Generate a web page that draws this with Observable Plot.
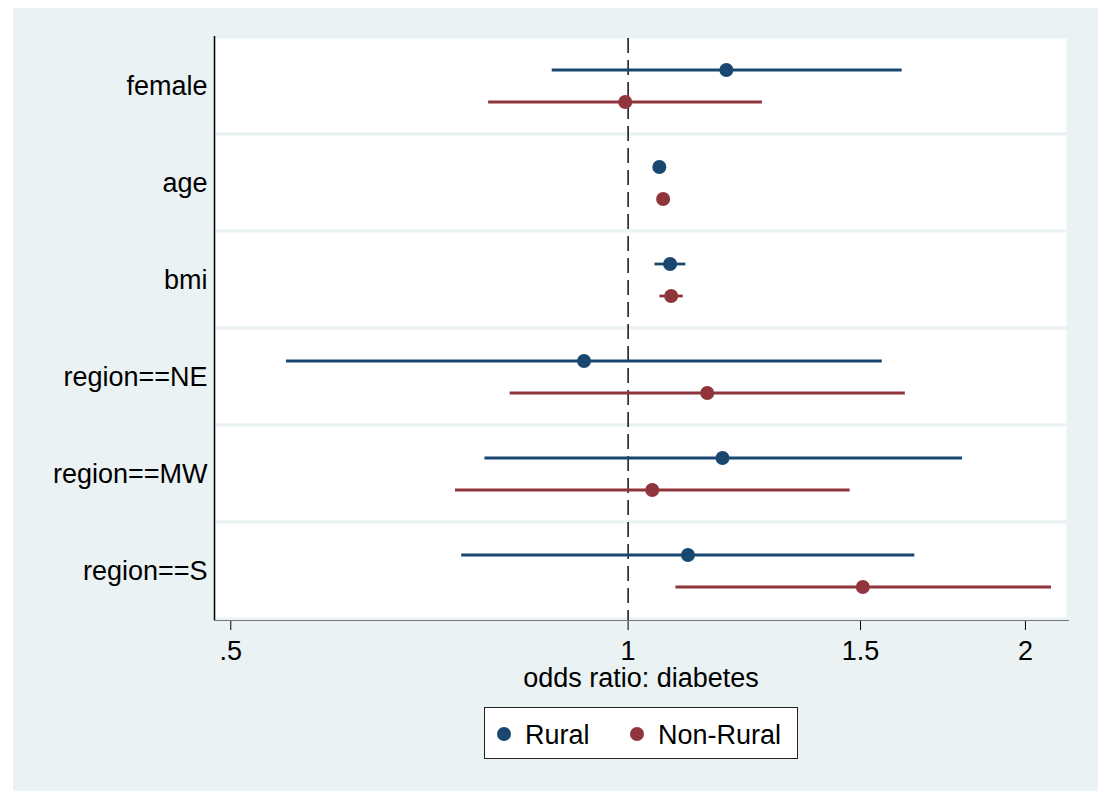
<!DOCTYPE html>
<html>
<head>
<meta charset="utf-8">
<script src="https://cdn.jsdelivr.net/npm/d3@7"></script>
<script src="https://cdn.jsdelivr.net/npm/@observablehq/plot@0.6"></script>
<style>
  html, body { margin: 0; padding: 0; background: white; }
  body { width: 1103px; height: 791px; position: relative; overflow: hidden; font-family: "Liberation Sans", Arial, sans-serif; }
  #panel { position: absolute; left: 13px; top: 8px; width: 1085px; height: 783px; background: #eaf2f3; }
  #chart { position: absolute; left: 0; top: 0; }
  #xtitle { position: absolute; left: 0; width: 1256px; top: 657px; text-align: center; font-size: 27px; line-height: 27px; color: #000; }
  #legend { position: absolute; left: 471px; top: 699px; width: 312px; height: 50px; border: 1px solid #222; background: white; }
  .ldot { position: absolute; width: 14px; height: 14px; border-radius: 50%; top: 19px; }
  .ltxt { position: absolute; font-size: 27px; line-height: 27px; top: 14px; color: #000; white-space: nowrap; }
</style>
</head>
<body>
<div id="panel">
  <div id="chart"></div>
  <div id="xtitle"></div>
  <div id="legend"></div>
</div>
<script>
// ---- data ----
const variables = ["female", "age", "bmi", "region==NE", "region==MW", "region==S"];
const groups = ["Rural", "Non-Rural"];
const groupColors = ["#1a476f", "#90353b"];

const ruralOR = [1.187, 1.056, 1.076, 0.926, 1.179, 1.110];
const ruralLo = [0.876, 1.047, 1.048, 0.551, 0.779, 0.748];
const ruralHi = [1.613, 1.065, 1.106, 1.558, 1.792, 1.649];

const nonRuralOR = [0.995, 1.063, 1.078, 1.148, 1.043, 1.506];
const nonRuralLo = [0.784, 1.054, 1.057, 0.814, 0.740, 1.087];
const nonRuralHi = [1.264, 1.072, 1.101, 1.622, 1.473, 2.093];

const xTicks = [0.5, 1, 1.5, 2];
const xTickLabels = [".5", "1", "1.5", "2"];
const xDomain = [0.486, 2.156];
const refValue = [1];
const xTitle = "odds ratio: diabetes";

// ---- table ----
const rows = [];
variables.forEach((v, i) => {
  rows.push({variable: v, group: "Rural", or: ruralOR[i], lo: ruralLo[i], hi: ruralHi[i]});
  rows.push({variable: v, group: "Non-Rural", or: nonRuralOR[i], lo: nonRuralLo[i], hi: nonRuralHi[i]});
});

const offsets = {"Rural": -16, "Non-Rural": 16};

const marks = [
  Plot.cell(variables, {y: d => d, fill: "white", stroke: "#eaf2f3", strokeWidth: 3}),
  Plot.ruleX(refValue, {stroke: "black", strokeWidth: 1.4, strokeDasharray: "15,7", strokeDashoffset: -2})
];
groups.forEach(g => {
  const sub = rows.filter(r => r.group === g);
  marks.push(Plot.ruleY(sub, {y: "variable", x1: "lo", x2: "hi", stroke: "group", strokeWidth: 2.8, dy: offsets[g]}));
  marks.push(Plot.dot(sub, {x: "or", y: "variable", fill: "group", r: 7, dy: offsets[g]}));
});
marks.push(Plot.ruleX([xDomain[0]], {stroke: "black", strokeWidth: 1.5}));

const chart = Plot.plot({
  width: 1085,
  height: 680,
  marginLeft: 201,
  marginRight: 30,
  marginTop: 28,
  marginBottom: 68,
  style: {background: "transparent", fontSize: "27px", fontFamily: "Liberation Sans, Arial, sans-serif", color: "black"},
  x: {type: "log", domain: xDomain, ticks: xTicks, tickFormat: d => xTickLabels[xTicks.indexOf(d)], tickSize: 10, tickPadding: 10, label: null, line: true},
  y: {domain: variables, padding: 0, tickSize: 0, tickPadding: 7, label: null},
  color: {domain: groups, range: groupColors},
  marks
});
document.getElementById("chart").appendChild(chart);

document.getElementById("xtitle").textContent = xTitle;
document.getElementById("xtitle").style.width = (201 + (1085 - 30)) + "px";

// legend
const legend = document.getElementById("legend");
const legendPos = [{dot: 12, txt: 40}, {dot: 145, txt: 173}];
groups.forEach((g, i) => {
  const d = document.createElement("div");
  d.className = "ldot";
  d.style.left = legendPos[i].dot + "px";
  d.style.background = groupColors[i];
  legend.appendChild(d);
  const t = document.createElement("div");
  t.className = "ltxt";
  t.style.left = legendPos[i].txt + "px";
  t.textContent = g;
  legend.appendChild(t);
});
</script>
</body>
</html>
